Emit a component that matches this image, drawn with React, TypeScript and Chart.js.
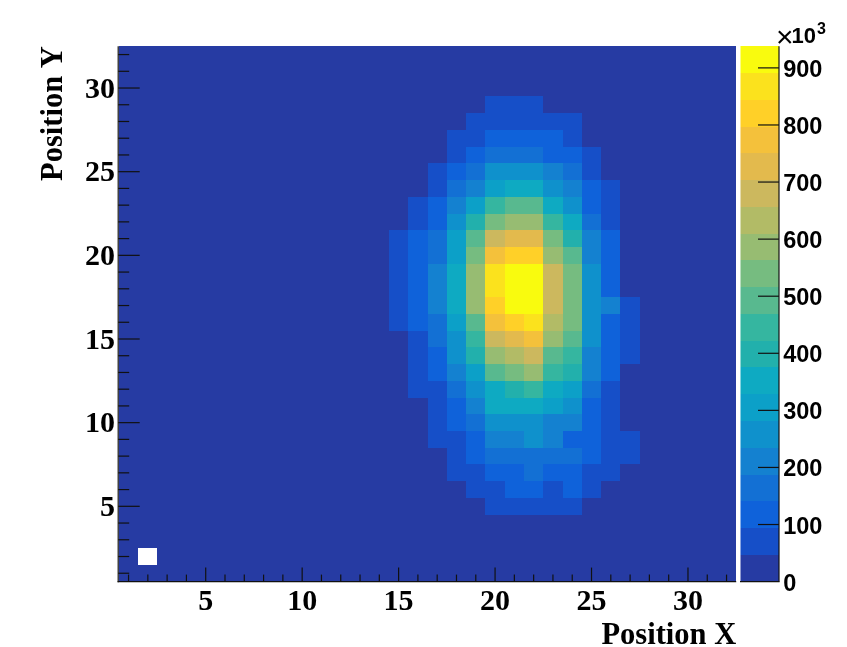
import React, { useEffect, useRef } from "react";
import { Chart, registerables } from "chart.js";

Chart.register(...registerables);

const xTitle = "Position X";
const yTitle = "Position Y";
const zMax = 938;
const nBins = 32;
const xMajor = [5, 10, 15, 20, 25, 30];
const yMajor = [5, 10, 15, 20, 25, 30];
const zMajor = [0, 100, 200, 300, 400, 500, 600, 700, 800, 900];
const binsAxis = Array.from({ length: nBins }, (_, i) => i + 1);

const palette = [
  "#263ba3", "#164fc8", "#0f62da", "#1370d4", "#1481d0", "#0f91cc", "#0ca0c8",
  "#0eaac2", "#22b0ac", "#35b6a0", "#58b98f", "#76bc80", "#97bc72", "#b2bb66",
  "#ccb85e", "#e3ba4d", "#f4c13b", "#ffd028", "#fbe21d", "#f9fb0e",
];

const background = 8;
const emptyCell = [2, 2];
const firstCol = 15;
// counts (thousands) per row, columns x = 15..27
const row29 = [8, 8, 8, 8, 8, 70, 70, 70, 8, 8, 8, 8, 8];
const row28 = [8, 8, 8, 8, 70, 70, 70, 70, 70, 70, 8, 8, 8];
const row27 = [8, 8, 8, 70, 70, 117, 117, 117, 117, 70, 8, 8, 8];
const row26 = [8, 8, 8, 70, 117, 164, 164, 164, 117, 117, 70, 8, 8];
const row25 = [8, 8, 70, 117, 164, 258, 258, 258, 211, 180, 70, 8, 8];
const row24 = [8, 8, 70, 164, 190, 305, 352, 352, 280, 211, 117, 70, 8];
const row23 = [8, 70, 117, 211, 305, 446, 493, 493, 352, 258, 117, 70, 8];
const row22 = [8, 70, 117, 258, 399, 540, 587, 587, 446, 352, 164, 70, 8];
const row21 = [70, 117, 164, 305, 493, 681, 728, 728, 540, 399, 211, 117, 8];
const row20 = [70, 117, 164, 305, 540, 775, 822, 822, 587, 493, 211, 117, 8];
const row19 = [70, 117, 211, 352, 587, 869, 916, 916, 681, 540, 258, 117, 8];
const row18 = [70, 117, 211, 352, 587, 869, 916, 916, 681, 540, 258, 117, 8];
const row17 = [70, 117, 211, 352, 587, 822, 916, 916, 681, 540, 258, 190, 70];
const row16 = [70, 117, 164, 305, 493, 775, 822, 869, 634, 540, 258, 117, 70];
const row15 = [8, 70, 164, 258, 446, 681, 728, 775, 587, 493, 258, 117, 70];
const row14 = [8, 70, 117, 258, 399, 587, 634, 681, 493, 446, 211, 117, 70];
const row13 = [8, 70, 117, 211, 305, 493, 540, 587, 446, 399, 211, 117, 8];
const row12 = [8, 70, 70, 164, 258, 352, 399, 446, 352, 305, 164, 70, 8];
const row11 = [8, 8, 70, 117, 211, 352, 352, 352, 305, 240, 117, 70, 8];
const row10 = [8, 8, 70, 117, 164, 258, 258, 258, 211, 211, 117, 70, 8];
const row09 = [8, 8, 70, 70, 117, 211, 211, 258, 211, 117, 117, 70, 70];
const row08 = [8, 8, 8, 70, 117, 164, 164, 164, 164, 164, 117, 70, 70];
const row07 = [8, 8, 8, 70, 70, 117, 117, 164, 117, 117, 70, 70, 8];
const row06 = [8, 8, 8, 8, 70, 70, 117, 117, 70, 117, 70, 8, 8];
const row05 = [8, 8, 8, 8, 8, 70, 70, 70, 70, 70, 8, 8, 8];
const rows: [number, number[]][] = [
  [29, row29], [28, row28], [27, row27], [26, row26], [25, row25], [24, row24],
  [23, row23], [22, row22], [21, row21], [20, row20], [19, row19], [18, row18],
  [17, row17], [16, row16], [15, row15], [14, row14], [13, row13], [12, row12],
  [11, row11], [10, row10], [9, row09], [8, row08], [7, row07], [6, row06], [5, row05],
];

function buildCells() {
  const cells: { x: number; y: number; v: number }[] = [];
  for (const y of binsAxis) {
    for (const x of binsAxis) {
      if (x === emptyCell[0] && y === emptyCell[1]) continue;
      const row = rows.find((r) => r[0] === y);
      const inRow = row && x >= firstCol && x < firstCol + row[1].length;
      cells.push({ x, y, v: inRow ? row![1][x - firstCol] : background });
    }
  }
  return cells;
}

const levelOf = (v: number) =>
  Math.min(palette.length - 1, Math.floor((v / zMax) * palette.length));

const heatPlugin = {
  id: "heat",
  beforeDatasetsDraw(chart: any) {
    const { ctx, scales } = chart;
    const { x: sx, y: sy, z: sz } = scales;
    ctx.save();
    for (const c of chart.data.datasets[0].data) {
      const x0 = Math.round(sx.getPixelForValue(c.x - 0.5));
      const x1 = Math.round(sx.getPixelForValue(c.x + 0.5));
      const y0 = Math.round(sy.getPixelForValue(c.y + 0.5));
      const y1 = Math.round(sy.getPixelForValue(c.y - 0.5));
      ctx.fillStyle = palette[levelOf(c.v)];
      ctx.fillRect(x0, y0, x1 - x0, y1 - y0);
    }
    // colour bar
    palette.forEach((col, i) => {
      const y0 = Math.round(sz.getPixelForValue(((i + 1) * zMax) / palette.length));
      const y1 = Math.round(sz.getPixelForValue((i * zMax) / palette.length));
      ctx.fillStyle = col;
      ctx.fillRect(740.5, y0, 38.5, y1 - y0);
    });
    ctx.restore();
  },
  afterDatasetsDraw(chart: any) {
    const { ctx, scales, chartArea } = chart;
    const { x: sx, y: sy, z: sz } = scales;
    const left = sx.getPixelForValue(0.5) - 0.7;
    const bottom = sy.getPixelForValue(0.5);
    const right = sx.getPixelForValue(32.5);
    const barR = 779;
    ctx.save();
    ctx.strokeStyle = "#111";
    ctx.lineWidth = 1.2;
    const seg = (a: number, b: number, c: number, d: number) => {
      ctx.beginPath();
      ctx.moveTo(a, b);
      ctx.lineTo(c, d);
      ctx.stroke();
    };
    seg(left, chartArea.top, left, bottom + 0.6);
    seg(left - 0.6, bottom, right, bottom);
    seg(740, bottom, barR + 0.6, bottom);
    seg(barR, sz.getPixelForValue(zMax), barR, bottom);
    for (const t of binsAxis) {
      const isMajor = xMajor.includes(t);
      const px = sx.getPixelForValue(t);
      seg(px, bottom, px, bottom - (isMajor ? 14 : 7));
      const py = sy.getPixelForValue(t);
      seg(left, py, left + (yMajor.includes(t) ? 21.5 : 11), py);
    }
    for (const t of zMajor) {
      if (t === 0) continue;
      const py = sz.getPixelForValue(t);
      seg(barR, py, barR - 21, py);
    }
    // multiplier of the colour axis
    ctx.fillStyle = "#000";
    ctx.textBaseline = "alphabetic";
    ctx.textAlign = "left";
    ctx.font = "30px 'Liberation Sans'";
    ctx.fillText("\u00d7", 776, 46.5);
    ctx.font = "bold 22px 'Liberation Sans'";
    ctx.fillText("10", 791.5, 43);
    ctx.font = "bold 16px 'Liberation Sans'";
    ctx.fillText("3", 817, 34);
    ctx.restore();
  },
};

const noScalePadding = (s: any) => {
  s.paddingTop = 0;
  s.paddingBottom = 0;
  s.paddingLeft = 0;
  s.paddingRight = 0;
};

export default function App() {
  const ref = useRef<HTMLCanvasElement>(null);
  useEffect(() => {
    const chart = new Chart(ref.current!, {
      type: "scatter",
      data: {
        datasets: [
          {
            label: "counts",
            data: buildCells(),
            pointRadius: 0,
            pointHoverRadius: 0,
            showLine: false,
            xAxisID: "x",
            yAxisID: "y",
          },
        ],
      },
      plugins: [heatPlugin],
      options: {
        responsive: false,
        animation: false,
        events: [],
        layout: { autoPadding: false, padding: { left: 0, right: 0, top: 46.2, bottom: 0 } },
        plugins: { legend: { display: false }, tooltip: { enabled: false }, title: { display: false } },
        scales: {
          x: {
            type: "linear",
            min: 0.5,
            max: 32.5,
            grid: { display: false, drawTicks: false },
            border: { display: false },
            afterBuildTicks: (s: any) => { s.ticks = xMajor.map((value) => ({ value })); },
            afterFit: (s: any) => { s.height = 647 - 581.6; noScalePadding(s); },
            ticks: {
              autoSkip: false,
              maxRotation: 0,
              padding: 3,
              color: "#000",
              font: { family: "'Liberation Serif'", weight: "bold", size: 30 },
            },
            title: {
              display: true,
              text: xTitle,
              align: "end",
              color: "#000",
              padding: { top: 0, bottom: -7 },
              font: { family: "'Liberation Serif'", weight: "bold", size: 30.5 },
            },
          },
          y: {
            type: "linear",
            position: "left",
            min: 0.5,
            max: 32.5,
            grid: { display: false, drawTicks: false },
            border: { display: false },
            afterBuildTicks: (s: any) => { s.ticks = yMajor.map((value) => ({ value })); },
            afterFit: (s: any) => { s.width = 118.9; noScalePadding(s); },
            ticks: {
              autoSkip: false,
              maxRotation: 0,
              padding: 4,
              labelOffset: 2,
              color: "#000",
              font: { family: "'Liberation Serif'", weight: "bold", size: 30 },
            },
            title: {
              display: true,
              text: yTitle,
              align: "end",
              color: "#000",
              padding: { top: 36, bottom: 0 },
              font: { family: "'Liberation Serif'", weight: "bold", size: 30.5 },
            },
          },
          z: {
            type: "linear",
            position: "right",
            min: 0,
            max: zMax,
            grid: { display: false, drawTicks: false },
            border: { display: false },
            afterBuildTicks: (s: any) => { s.ticks = zMajor.map((value) => ({ value })); },
            afterFit: (s: any) => { s.width = 847 - 736.2; noScalePadding(s); },
            ticks: {
              autoSkip: false,
              maxRotation: 0,
              padding: 47,
              labelOffset: 2.5,
              color: "#000",
              font: { family: "'Liberation Sans'", weight: "bold", size: 23.5 },
            },
          },
        },
      },
    } as any);
    return () => chart.destroy();
  }, []);
  return (
    <div style={{ position: "absolute", left: 0, top: 0 }}>
      <canvas ref={ref} width={847} height={647} style={{ display: "block" }} />
    </div>
  );
}
